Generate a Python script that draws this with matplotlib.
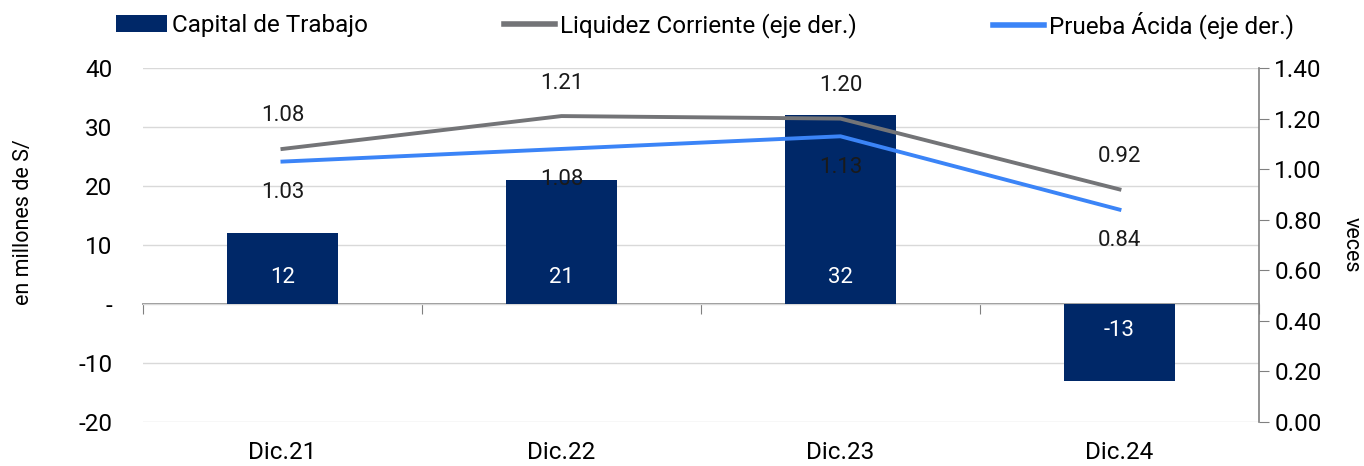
import matplotlib.pyplot as plt
from matplotlib.patches import Patch
from matplotlib.lines import Line2D

plt.rcParams['font.family'] = ['Roboto', 'DejaVu Sans']

# data
periodos = ['Dic.21', 'Dic.22', 'Dic.23', 'Dic.24']
capital_trabajo = [12, 21, 32, -13]
liquidez_corriente = [1.08, 1.21, 1.20, 0.92]
prueba_acida = [1.03, 1.08, 1.13, 0.84]

navy = '#002868'
gris = '#737477'
azul = '#3b84f7'

fig = plt.figure(figsize=(13.64, 4.66), dpi=100)
ax = fig.add_axes([0.1048, 0.0944, 0.8182, 0.7596])
ax2 = ax.twinx()

x = list(range(len(periodos)))

# bars (left axis)
ax.bar(x, capital_trabajo, width=0.4, color=navy, zorder=3)
for xi, v in zip(x, capital_trabajo):
    off = 27 if v >= 0 else -26
    ax.annotate(f'{v}', (xi, 0), xytext=(0, off), textcoords='offset pixels',
                ha='center', va='center', color='white', fontsize=16, zorder=4)

ax.set_ylim(-20, 40)
ax.set_xlim(-0.5, 3.5)
ax.set_yticks([40, 30, 20, 10, 0, -10, -20])
ax.set_yticklabels(['40', '30', '20', '10', '-', '-10', '-20'])
ax.tick_params(axis='y', length=0, pad=22, labelsize=17.5)
ax.grid(axis='y', color='#d9d9d9', lw=1, zorder=0)
ax.set_axisbelow(True)
ax.set_ylabel('en millones de S/', fontsize=15.5, va='center')
ax.yaxis.set_label_coords(-0.107, 0.565)
ax.set_xticks(x)
ax.set_xticklabels(periodos)
ax.tick_params(axis='x', length=0, labelsize=17.5, pad=14)
for s in ['top', 'left', 'right', 'bottom']:
    ax.spines[s].set_visible(False)

# zero line with category boundary ticks
sec = ax.secondary_xaxis(1 / 3)
sec.set_xticks([-0.5, 0.5, 1.5, 2.5, 3.5])
sec.set_xticklabels([])
sec.tick_params(axis='x', length=7, color='#808080', direction='out')
sec.spines['bottom'].set_color('#808080')
sec.spines['bottom'].set_linewidth(1.2)

# lines (right axis)
ax2.plot(x, liquidez_corriente, color=gris, lw=2.8, zorder=5)
ax2.plot(x, prueba_acida, color=azul, lw=2.8, zorder=5)
for xi, v in zip(x, liquidez_corriente):
    ax2.annotate(f'{v:.2f}', (xi, v), xytext=(0, 33), textcoords='offset pixels',
                 ha='center', va='center', fontsize=16, color='#1a1a1a')
for xi, v in zip(x, prueba_acida):
    ax2.annotate(f'{v:.2f}', (xi, v), xytext=(0, -31), textcoords='offset pixels',
                 ha='center', va='center', fontsize=16, color='#1a1a1a')

ax2.set_ylim(0, 1.4)
ax2.set_yticks([0, 0.2, 0.4, 0.6, 0.8, 1.0, 1.2, 1.4])
ax2.set_yticklabels([f'{t:.2f}' for t in ax2.get_yticks()])
ax2.tick_params(axis='y', length=7, color='#808080', pad=4, labelsize=17.5)
for s in ['top', 'left', 'bottom']:
    ax2.spines[s].set_visible(False)
ax2.spines['right'].set_color('#808080')
ax2.spines['right'].set_linewidth(1.2)
ax2.set_ylabel('veces', rotation=270, fontsize=15.5, va='center')
ax2.yaxis.set_label_coords(1.083, 0.5)

# legend
leg_items = [
    (Patch(facecolor=navy), 'Capital de Trabajo', 0.085),
    (Line2D([], [], color=gris, lw=4), 'Liquidez Corriente (eje der.)', 0.3695),
    (Line2D([], [], color=azul, lw=4), 'Prueba Ácida (eje der.)', 0.728),
]
for h, lab, xl in leg_items:
    fig.legend([h], [lab], loc='center left', bbox_to_anchor=(xl, 0.946),
               frameon=False, fontsize=17.5, handlelength=2.1, handleheight=0.7,
               handletextpad=0.2, borderpad=0, borderaxespad=0)

fig.savefig('out.png', dpi=100)
